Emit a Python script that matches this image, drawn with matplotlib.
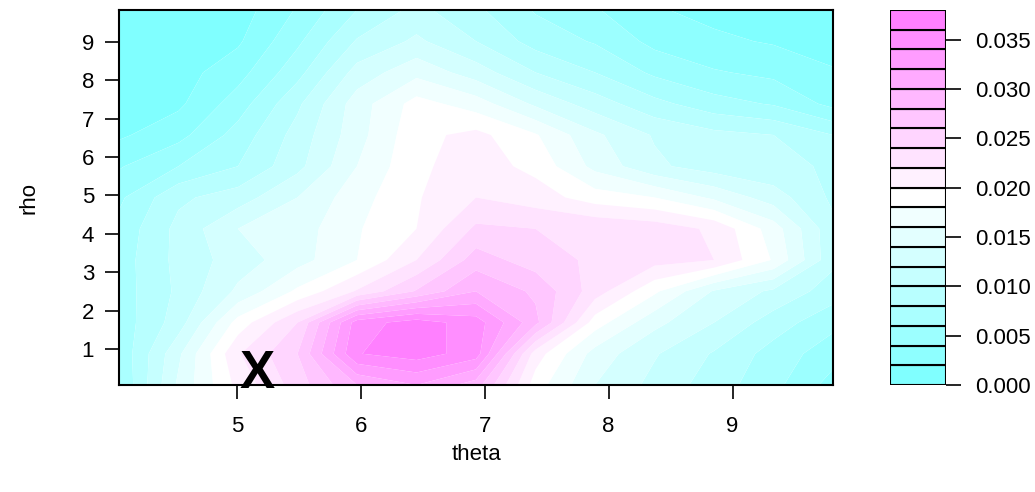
import colorsys
import numpy as np
import matplotlib
matplotlib.use("Agg")
import matplotlib.pyplot as plt

plt.rcParams['font.family'] = ['Liberation Sans', 'DejaVu Sans']

# density surface, in units of 1e-3
# rows go from low rho (bottom) to high rho (top), columns from low to high theta
theta_range = (4.05, 9.81)
rho_range = (0.06, 9.83)
dens_rho_006 = [6.0, 14.4, 20.6, 25.0, 30.0, 32.0, 29.0, 19.0, 14.0, 11.4, 9.0, 6.6, 3.2]
dens_rho_087 = [6.4, 13.6, 21.8, 26.0, 35.9, 37.0, 35.0, 21.0, 15.2, 12.2, 9.8, 7.2, 4.8]
dens_rho_169 = [6.8, 11.0, 18.8, 24.0, 35.0, 37.0, 35.0, 28.6, 19.0, 14.6, 12.0, 9.0, 6.6]
dens_rho_250 = [7.0, 10.4, 14.4, 18.4, 22.2, 26.2, 30.0, 27.6, 23.0, 18.4, 13.8, 11.6, 9.0]
dens_rho_332 = [7.0, 10.6, 13.0, 15.2, 18.0, 22.0, 27.0, 25.0, 23.6, 22.8, 22.0, 17.8, 10.5]
dens_rho_413 = [6.6, 10.6, 14.0, 15.0, 17.8, 20.0, 24.4, 24.0, 23.8, 23.2, 21.6, 17.0, 10.5]
dens_rho_494 = [5.6, 9.6, 11.0, 14.0, 17.2, 19.8, 22.0, 21.0, 19.0, 18.0, 15.6, 13.0, 9.6]
dens_rho_576 = [3.8, 6.0, 8.0, 11.4, 16.0, 19.6, 21.0, 19.4, 15.4, 12.4, 11.0, 10.4, 9.8]
dens_rho_657 = [1.66, 3.34, 6.8, 10.8, 15.2, 19.4, 20.6, 18.2, 14.4, 11.8, 10.6, 10.0, 8.0]
dens_rho_739 = [0.8, 1.6, 5.0, 9.6, 15.0, 18.8, 17.0, 13.6, 11.0, 8.6, 6.8, 5.8, 3.4]
dens_rho_820 = [0.52, 1.16, 3.2, 7.3, 12.8, 15.4, 13.0, 10.0, 8.0, 5.6, 4.2, 3.5, 2.2]
dens_rho_901 = [0.4, 0.9, 1.7, 5.6, 10.2, 12.4, 10.0, 7.2, 5.8, 3.4, 2.4, 1.8, 1.1]
dens_rho_983 = [0.3, 0.5, 1.0, 4.2, 8.0, 10.6, 8.4, 5.8, 4.2, 2.2, 1.4, 0.8, 0.5]

marker_pos = (5.16, -0.01)
levels = np.arange(0, 0.0381, 0.002)
cbar_ticks = [0.000, 0.005, 0.010, 0.015, 0.020, 0.025, 0.030, 0.035]

FS = 16


def cm_colors(n):
    """R's cm.colors palette."""
    even = n % 2 == 0
    k = n // 2
    l1 = k + 1 - even
    l2 = n - k + even
    cols = []
    for s in np.linspace(0.5, 0.5 / k if even else 0.0, l1):
        cols.append(colorsys.hsv_to_rgb(6 / 12, s, 1.0))
    for s in np.linspace(0.0, 0.5, l2)[1:]:
        cols.append(colorsys.hsv_to_rgb(10 / 12, s, 1.0))
    return cols


z = np.array([dens_rho_006, dens_rho_087, dens_rho_169, dens_rho_250,
              dens_rho_332, dens_rho_413, dens_rho_494, dens_rho_576,
              dens_rho_657, dens_rho_739, dens_rho_820, dens_rho_901,
              dens_rho_983]) * 1e-3
theta = np.linspace(theta_range[0], theta_range[1], z.shape[1])
rho = np.linspace(rho_range[0], rho_range[1], z.shape[0])

colors = cm_colors(len(levels) - 1)

fig = plt.figure(figsize=(10.35, 4.92), dpi=100)
ax = fig.add_axes([119 / 1035, 1 - 385 / 492, 714 / 1035, 375 / 492])
ax.contourf(theta, rho, z, levels=levels, colors=colors, antialiased=True)
ax.set_xlim(theta_range)
ax.set_ylim(rho_range)
ax.set_xticks([5, 6, 7, 8, 9])
ax.set_yticks(range(1, 10))
ax.tick_params(length=10, width=1.2, labelsize=FS, pad=8, direction='out')
ax.tick_params(axis='x', pad=12)
for sp in ax.spines.values():
    sp.set_linewidth(1.5)
ax.set_xlabel('theta', fontsize=FS, labelpad=5)
ax.set_ylabel('rho', fontsize=FS, labelpad=30)
ax.text(marker_pos[0], marker_pos[1], 'X', fontsize=38, fontweight='bold',
        ha='center', va='baseline')

# colour key
cax = fig.add_axes([890 / 1035, 1 - 385 / 492, 56 / 1035, 375 / 492])
for i, c in enumerate(colors):
    cax.bar(0, levels[i + 1] - levels[i], bottom=levels[i], width=1,
            color=c, edgecolor='black', linewidth=1.5)
cax.set_xlim(-0.5, 0.5)
cax.set_ylim(levels[0], levels[-1])
for sp in cax.spines.values():
    sp.set_visible(False)
cax.set_xticks([])
cax.yaxis.tick_right()
cax.set_yticks(cbar_ticks)
cax.set_yticklabels([f"{t:.3f}" for t in cbar_ticks])
cax.tick_params(axis='y', length=11, width=1.2, labelsize=FS, pad=10)

fig.savefig('out.png', dpi=100)
